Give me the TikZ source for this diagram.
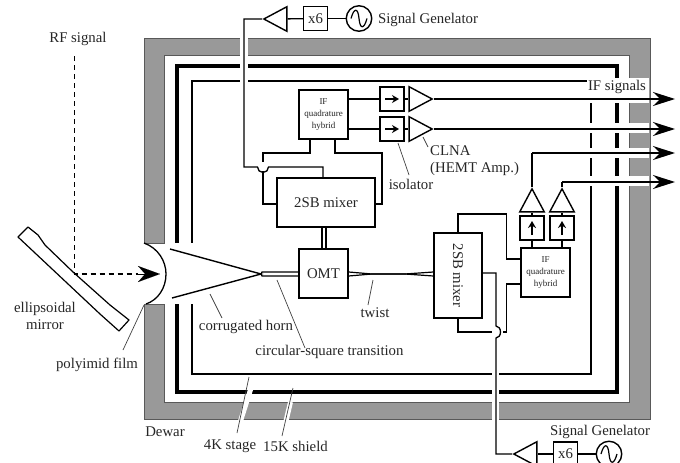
\documentclass[tikz,border=0pt]{standalone}
\usepackage{fontspec}
\setmainfont{Liberation Serif}
\usetikzlibrary{arrows.meta,shapes.geometric}

\begin{document}
\begin{tikzpicture}[x=1pt,y=-1pt,>={Stealth[length=7pt,width=8pt]}]

        \def\boxsize{49}            % size of the OMT and the hybrids
        \def\isosize{24}            % size of the isolators and x6 boxes
        \definecolor{dewargray}{gray}{.6}
        \tikzstyle{wire}=[draw=black,line width=1.3pt]
        \tikzstyle{unit}=[rectangle,draw=black,line width=1.4pt,fill=white,inner sep=0pt,text=black!85]
        \tikzstyle{iso}=[unit,minimum size=\isosize pt]
        \tikzstyle{hybrid}=[unit,minimum size=\boxsize pt,align=center,font=\fontsize{9pt}{12pt}\selectfont]
        \tikzstyle{amp}=[isosceles triangle,isosceles triangle stretches,anchor=apex,draw=black,line width=1.4pt,fill=white,inner sep=0pt,minimum width=24.5pt,minimum height=23pt]
        \tikzstyle{source}=[circle,draw=black,line width=1.4pt,fill=white,minimum size=25.5pt,inner sep=0pt]
        \tikzstyle{sig}=[wire,-{Stealth[length=22pt,width=14pt]}]
        \tikzstyle{gap}=[draw=white,line width=10.5pt]
        \tikzstyle{leader}=[draw=black!75,line width=.7pt]
        \tikzstyle{annot}=[inner sep=0pt,text=black!85]
        \tikzset{fontscale/.style = {font={\fontsize{#1pt}{#1pt}\selectfont}}}
        \tikzset{every node/.append style={fontscale=14.8}}

        \clip (0,0) rectangle (680,463);

        % Draw the dewar wall and the two shields
            \fill[dewargray,draw=black!65,line width=.7pt,even odd rule] (144,38) rectangle (650,419) (164,55) rectangle (629,402);
            \draw[black,line width=4.2pt] (177,66) rectangle (617,392);
            \draw[black,line width=2.6pt] (192,81) rectangle (591,374);

        % Openings in the walls
            \fill[white] (143,243) rectangle (195,304);
            \draw[draw=black!65,line width=.7pt] (144,243) -- (165,243) (144,304) -- (165,304);
            \fill[white] (587,78) rectangle (649,94);
            \draw[gap,line width=8pt] (244,36) -- (244,85);
            \draw[gap,line width=7pt] (495.5,370) -- (495.5,421);
            \foreach \yo in {98,128,153,181}{
                \draw[gap] (585,\yo) -- (649,\yo);
            }

        % Draw the mirror and the beam
            \draw[black,line width=1.2pt,fill=white,line join=round] (28,227) -- (38,235) -- (45,245) -- (73,272) -- (110,305) -- (129,320) -- (119,331) -- (100,314) -- (67,283) -- (18,237) -- cycle;
            \coordinate (RFtop) at (74.5,56);
            \coordinate (RFfold) at (74.5,274);
            \coordinate (RFend) at (160,274);
            \draw[line width=1.4pt,dash pattern=on 5pt off 4pt] (RFtop) -- (RFfold) -- (138,274);
            \draw[wire,-{Stealth[length=22pt,width=16pt]},line width=.1pt] (138,274) -- (RFend);
            \draw[line width=1.3pt] (144,243) .. controls (158,248) and (166,261) .. (166,274) .. controls (166,288) and (158,300) .. (146,304);

        % Draw the horn
            \coordinate (HornT) at (170,249);
            \coordinate (HornB) at (172,298);
            \coordinate (HornE) at (261,274);
            \draw[line width=1.4pt] (HornT) -- (HornE) -- (HornB);

        % Draw the main units
            \node[unit,minimum size=\boxsize pt] (OMT) at (323.5,273.5) {OMT};
            \node[unit,minimum width=98pt,minimum height=49pt] (MixA) at (326,202.5) {2SB mixer};
            \node[unit,minimum width=48pt,minimum height=85pt] (MixB) at (458,275.5) {};
            \node[annot,rotate=-90] (MixBl) at (MixB) {2SB mixer};
            \node[hybrid] (HybA) at (323.5,114.5) {IF\\quadrature\\hybrid};
            \node[hybrid] (HybB) at (545.5,272.5) {IF\\quadrature\\hybrid};

        % Transition and twist
            \draw[line width=1.2pt] (HornE) -- (262,272) -- (OMT.west |- 0,272) (HornE) -- (262,276) -- (OMT.west |- 0,276);
            \draw[line width=1.2pt] (OMT.east |- 0,272) -- (372,274) -- (405,274) -- (MixB.west |- 0,272);
            \draw[line width=1.2pt] (OMT.east |- 0,276) -- (372,274) -- (405,274) -- (MixB.west |- 0,276);
            \draw[line width=1.2pt] (322,227) -- (322,249) (326,227) -- (326,249);

        % Draw the upper IF chain
            \foreach \xn/\yo in {1/99,2/129}{
                \node[iso] (IsoA-\xn) at (392,\yo) {};
                \node[amp] (AmpA-\xn) at (434,\yo) {};
                \coordinate (OutA-\xn) at (675,\yo);
                \draw[wire] (HybA.east |- IsoA-\xn) -- (IsoA-\xn);
                \draw[wire] (IsoA-\xn) -- (AmpA-\xn);
                \draw[->,line width=1.8pt] ([xshift=-7pt]IsoA-\xn.center) -- ([xshift=7pt]IsoA-\xn.center);
                \draw[sig] (AmpA-\xn.apex) -- (OutA-\xn);
            }

        % Draw the right IF chain
            \foreach \xn/\xo/\yo in {1/532/153,2/562/182}{
                \node[iso] (IsoB-\xn) at (\xo,228) {};
                \node[amp,shape border rotate=90] (AmpB-\xn) at (\xo,187) {};
                \coordinate (OutB-\xn) at (675,\yo);
                \coordinate (KneeB-\xn) at (\xo,\yo);
                \draw[wire] (HybB.north -| IsoB-\xn) -- (IsoB-\xn.south);
                \draw[wire] (IsoB-\xn.north) -- (AmpB-\xn.lower side);
                \draw[->,line width=1.8pt] ([yshift=-7pt]IsoB-\xn.center) -- ([yshift=7pt]IsoB-\xn.center);
                \draw[wire] (AmpB-\xn.apex) -- (KneeB-\xn);
                \draw[sig] (KneeB-\xn) -- (OutB-\xn);
            }

        % Connect the mixers and the hybrids
            \draw[wire] (310,139) -- (310,153) -- (263,153) -- (263,162);
            \draw[wire] (263,171) -- (263,204) -- (MixA.west |- 0,204);
            \draw[wire] (335,139) -- (335,153) -- (382,153) -- (382,204) -- (MixA.east |- 0,204);
            \draw[wire] (458,233) -- (458,214) -- (506.5,214) -- (506.5,259) -- (HybB.west |- 0,259);
            \draw[wire] (458,318) -- (458,332) -- (492,332);
            \draw[wire] (HybB.west |- 0,284) -- (506.5,284) -- (506.5,332) -- (503,332);

        % Draw the signal generators
            \node[source] (GenT) at (359,18.5) {};
            \node[iso] (MulT) at (315.5,18.5) {x6};
            \node[amp,shape border rotate=180] (AmpT) at (262,19) {};
            \draw[wire] (GenT) -- (MulT);
            \draw[wire] (MulT) -- (AmpT);
            \draw[wire] (AmpT.apex) -- (244,19) -- (244,167) -- (257.5,167) arc[start angle=180,end angle=0,radius=5.5] -- (323,167) -- (323,178);
            \draw[line width=1.2pt] ([xshift=-8pt]GenT.center) .. controls ([xshift=-5pt,yshift=11pt]GenT.center) and ([xshift=-1pt,yshift=11pt]GenT.center) .. (GenT.center) .. controls ([xshift=1pt,yshift=-11pt]GenT.center) and ([xshift=5pt,yshift=-11pt]GenT.center) .. ([xshift=8pt]GenT.center);

            \node[source] (GenB) at (609,454) {};
            \node[iso] (MulB) at (565.5,454) {x6};
            \node[amp,shape border rotate=180] (AmpB) at (512,454) {};
            \draw[wire] (GenB) -- (MulB);
            \draw[wire] (MulB) -- (AmpB);
            \draw[wire] (AmpB.apex) -- (496,454) -- (496,338) arc[start angle=90,end angle=-90,x radius=4.5,y radius=6] -- (496,273) -- (MixB.east |- 0,273);
            \draw[line width=1.2pt] ([xshift=-8pt]GenB.center) .. controls ([xshift=-5pt,yshift=11pt]GenB.center) and ([xshift=-1pt,yshift=11pt]GenB.center) .. (GenB.center) .. controls ([xshift=1pt,yshift=-11pt]GenB.center) and ([xshift=5pt,yshift=-11pt]GenB.center) .. ([xshift=8pt]GenB.center);

        % Leader lines
            \draw[draw=white,line width=5pt] (252,385) -- (240.5,421);
            \draw[draw=white,line width=5pt] (290.5,402) -- (286,421);
            \draw[leader] (423,137) -- (428,147);
            \draw[leader] (398,143) -- (409,175);
            \draw[leader] (144,305) -- (123,350);
            \draw[leader] (210,294) -- (222,318);
            \draw[leader] (277,280) -- (305,348);
            \draw[leader] (373,280) -- (368,305);
            \draw[leader] (249,377) -- (237,433);
            \draw[leader] (293,388) -- (282,436);

        % Annotate the picture
            \node[annot] (RFl) at (78,39) {RF signal};
            \node[annot,align=center] (Mirl) at (45,316) {ellipsoidal\\[2pt]mirror};
            \node[annot] (Poll) at (97,365) {polyimid film};
            \node[annot] (Horl) at (246,327) {corrugated horn};
            \node[annot] (Cirl) at (329.5,352) {circular-square transition};
            \node[annot] (Twil) at (375,313) {twist};
            \node[annot] (Dewl) at (165,432) {Dewar};
            \node[annot] (Stal) at (230,446) {4K stage};
            \node[annot] (Shil) at (295.5,446) {15K shield};
            \node[annot] (Genl) at (428,20) {Signal Genelator};
            \node[annot] (Genm) at (600,432) {Signal Genelator};
            \node[annot] (IFl) at (617,87) {IF signals};
            \node[annot,align=left,anchor=north west] (CLl) at (430,145) {CLNA\\[3pt](HEMT Amp.)};
            \node[annot] (Isol) at (411,184) {isolator};

\end{tikzpicture}
\end{document}
